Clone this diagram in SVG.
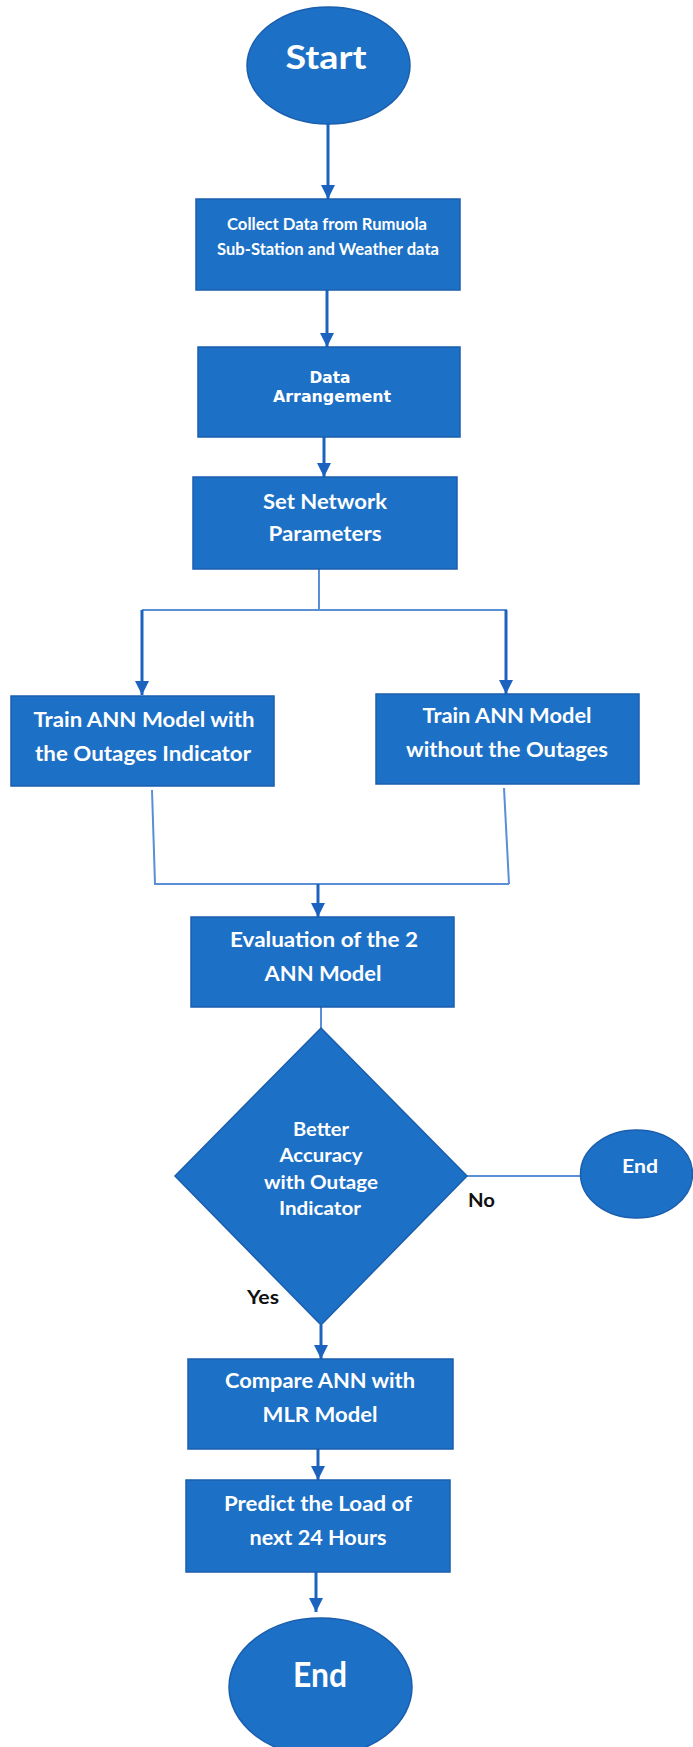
<svg xmlns="http://www.w3.org/2000/svg" width="693" height="1747" viewBox="0 0 693 1747">
<style>
.node{fill:#1c70c6;stroke:#1a5eae;stroke-width:1.5}
.t{font-family:Lato,"Liberation Sans",sans-serif;font-weight:bold;fill:#ffffff;text-anchor:middle}
.td{font-family:"DejaVu Sans",sans-serif;font-weight:bold;fill:#ffffff;text-anchor:middle}
.lbl{font-family:Lato,"Liberation Sans",sans-serif;font-weight:bold;fill:#111111;text-anchor:middle}
.thick{fill:none;stroke:#1c63c0;stroke-width:3}
.thin{fill:none;stroke:#5a8fd6;stroke-width:2}
</style>
<defs>
<marker id="ah" markerUnits="userSpaceOnUse" markerWidth="14" markerHeight="14" viewBox="0 0 14 14" refX="14" refY="7" orient="auto">
<path d="M0,0 L14,7 L0,14 Z" fill="#1c63c0"/>
</marker>
</defs>
<rect width="693" height="1747" fill="#ffffff"/>
<g id="connectors">
<path class="thick" d="M328,124 V199" marker-end="url(#ah)"/>
<path class="thick" d="M327,290 V347" marker-end="url(#ah)"/>
<path class="thick" d="M324,437 V477" marker-end="url(#ah)"/>
<path class="thin" d="M319,569 V610"/>
<path class="thin" d="M142,610 H507"/>
<path class="thick" d="M142,610 V695" marker-end="url(#ah)"/>
<path class="thick" d="M506,610 V694" marker-end="url(#ah)"/>
<path class="thin" d="M152,790 L155,884"/>
<path class="thin" d="M504,788 L509,884"/>
<path class="thin" d="M154,884 H509"/>
<path class="thick" d="M318,884 V917" marker-end="url(#ah)"/>
<path class="thin" d="M321,1007 V1028"/>
<path class="thin" d="M467,1176 H581"/>
<path class="thick" d="M321,1325 V1359" marker-end="url(#ah)"/>
<path class="thick" d="M318,1449 V1480" marker-end="url(#ah)"/>
<path class="thick" d="M316,1572 V1612" marker-end="url(#ah)"/>
</g>
<g id="start">
<ellipse class="node" cx="328.5" cy="65.5" rx="81.5" ry="58.5"/>
<text class="t" x="326" y="69" font-size="33" textLength="81" lengthAdjust="spacingAndGlyphs">Start</text>
</g>
<g id="collect">
<rect class="node" x="196" y="199" width="264" height="91"/>
<text class="t" x="327" y="230" font-size="17" textLength="200" lengthAdjust="spacingAndGlyphs">Collect Data from Rumuola</text>
<text class="t" x="328" y="255" font-size="17" textLength="222" lengthAdjust="spacingAndGlyphs">Sub-Station and Weather data</text>
</g>
<g id="arrange">
<rect class="node" x="198" y="347" width="262" height="90"/>
<text class="td" x="330" y="383" font-size="16" textLength="41" lengthAdjust="spacingAndGlyphs">Data</text>
<text class="td" x="332" y="402" font-size="16" textLength="118" lengthAdjust="spacingAndGlyphs">Arrangement</text>
</g>
<g id="setnet">
<rect class="node" x="193" y="477" width="264" height="92"/>
<text class="t" x="325" y="509" font-size="21" textLength="124" lengthAdjust="spacingAndGlyphs">Set Network</text>
<text class="t" x="325" y="541" font-size="21" textLength="113" lengthAdjust="spacingAndGlyphs">Parameters</text>
</g>
<g id="trainwith">
<rect class="node" x="11" y="696" width="263" height="90"/>
<text class="t" x="144" y="727" font-size="20" textLength="221" lengthAdjust="spacingAndGlyphs">Train ANN Model with</text>
<text class="t" x="143" y="761" font-size="20" textLength="216" lengthAdjust="spacingAndGlyphs">the Outages Indicator</text>
</g>
<g id="trainwithout">
<rect class="node" x="376" y="694" width="263" height="90"/>
<text class="t" x="507" y="723" font-size="20" textLength="169" lengthAdjust="spacingAndGlyphs">Train ANN Model</text>
<text class="t" x="507" y="757" font-size="20" textLength="202" lengthAdjust="spacingAndGlyphs">without the Outages</text>
</g>
<g id="evaluation">
<rect class="node" x="191" y="917" width="263" height="90"/>
<text class="t" x="324" y="947" font-size="20" textLength="188" lengthAdjust="spacingAndGlyphs">Evaluation of the 2</text>
<text class="t" x="323" y="981" font-size="20" textLength="117" lengthAdjust="spacingAndGlyphs">ANN Model</text>
</g>
<g id="decision">
<polygon class="node" points="321,1028 467,1176 321,1325 175,1176"/>
<text class="t" x="321" y="1136" font-size="19" textLength="56" lengthAdjust="spacingAndGlyphs">Better</text>
<text class="t" x="321" y="1162" font-size="19" textLength="83" lengthAdjust="spacingAndGlyphs">Accuracy</text>
<text class="t" x="321" y="1189" font-size="19" textLength="114" lengthAdjust="spacingAndGlyphs">with Outage</text>
<text class="t" x="320" y="1215" font-size="19" textLength="82" lengthAdjust="spacingAndGlyphs">Indicator</text>
</g>
<g id="labels">
<text class="lbl" x="481.5" y="1207" font-size="18" textLength="27" lengthAdjust="spacingAndGlyphs">No</text>
<text class="lbl" x="263" y="1304" font-size="18" textLength="32" lengthAdjust="spacingAndGlyphs">Yes</text>
</g>
<g id="end-no">
<ellipse class="node" cx="636.5" cy="1174" rx="56" ry="44"/>
<text class="t" x="640" y="1173" font-size="19" textLength="36" lengthAdjust="spacingAndGlyphs">End</text>
</g>
<g id="compare">
<rect class="node" x="188" y="1359" width="265" height="90"/>
<text class="t" x="320" y="1388" font-size="20" textLength="190" lengthAdjust="spacingAndGlyphs">Compare ANN with</text>
<text class="t" x="320" y="1422" font-size="20" textLength="115" lengthAdjust="spacingAndGlyphs">MLR Model</text>
</g>
<g id="predict">
<rect class="node" x="186" y="1480" width="264" height="92"/>
<text class="t" x="318" y="1511" font-size="20" textLength="188" lengthAdjust="spacingAndGlyphs">Predict the Load of</text>
<text class="t" x="318" y="1545" font-size="20" textLength="137" lengthAdjust="spacingAndGlyphs">next 24 Hours</text>
</g>
<g id="end">
<ellipse class="node" cx="320.5" cy="1687" rx="91.5" ry="69"/>
<text class="t" x="320" y="1687" font-size="35" textLength="54" lengthAdjust="spacingAndGlyphs">End</text>
</g>
</svg>
